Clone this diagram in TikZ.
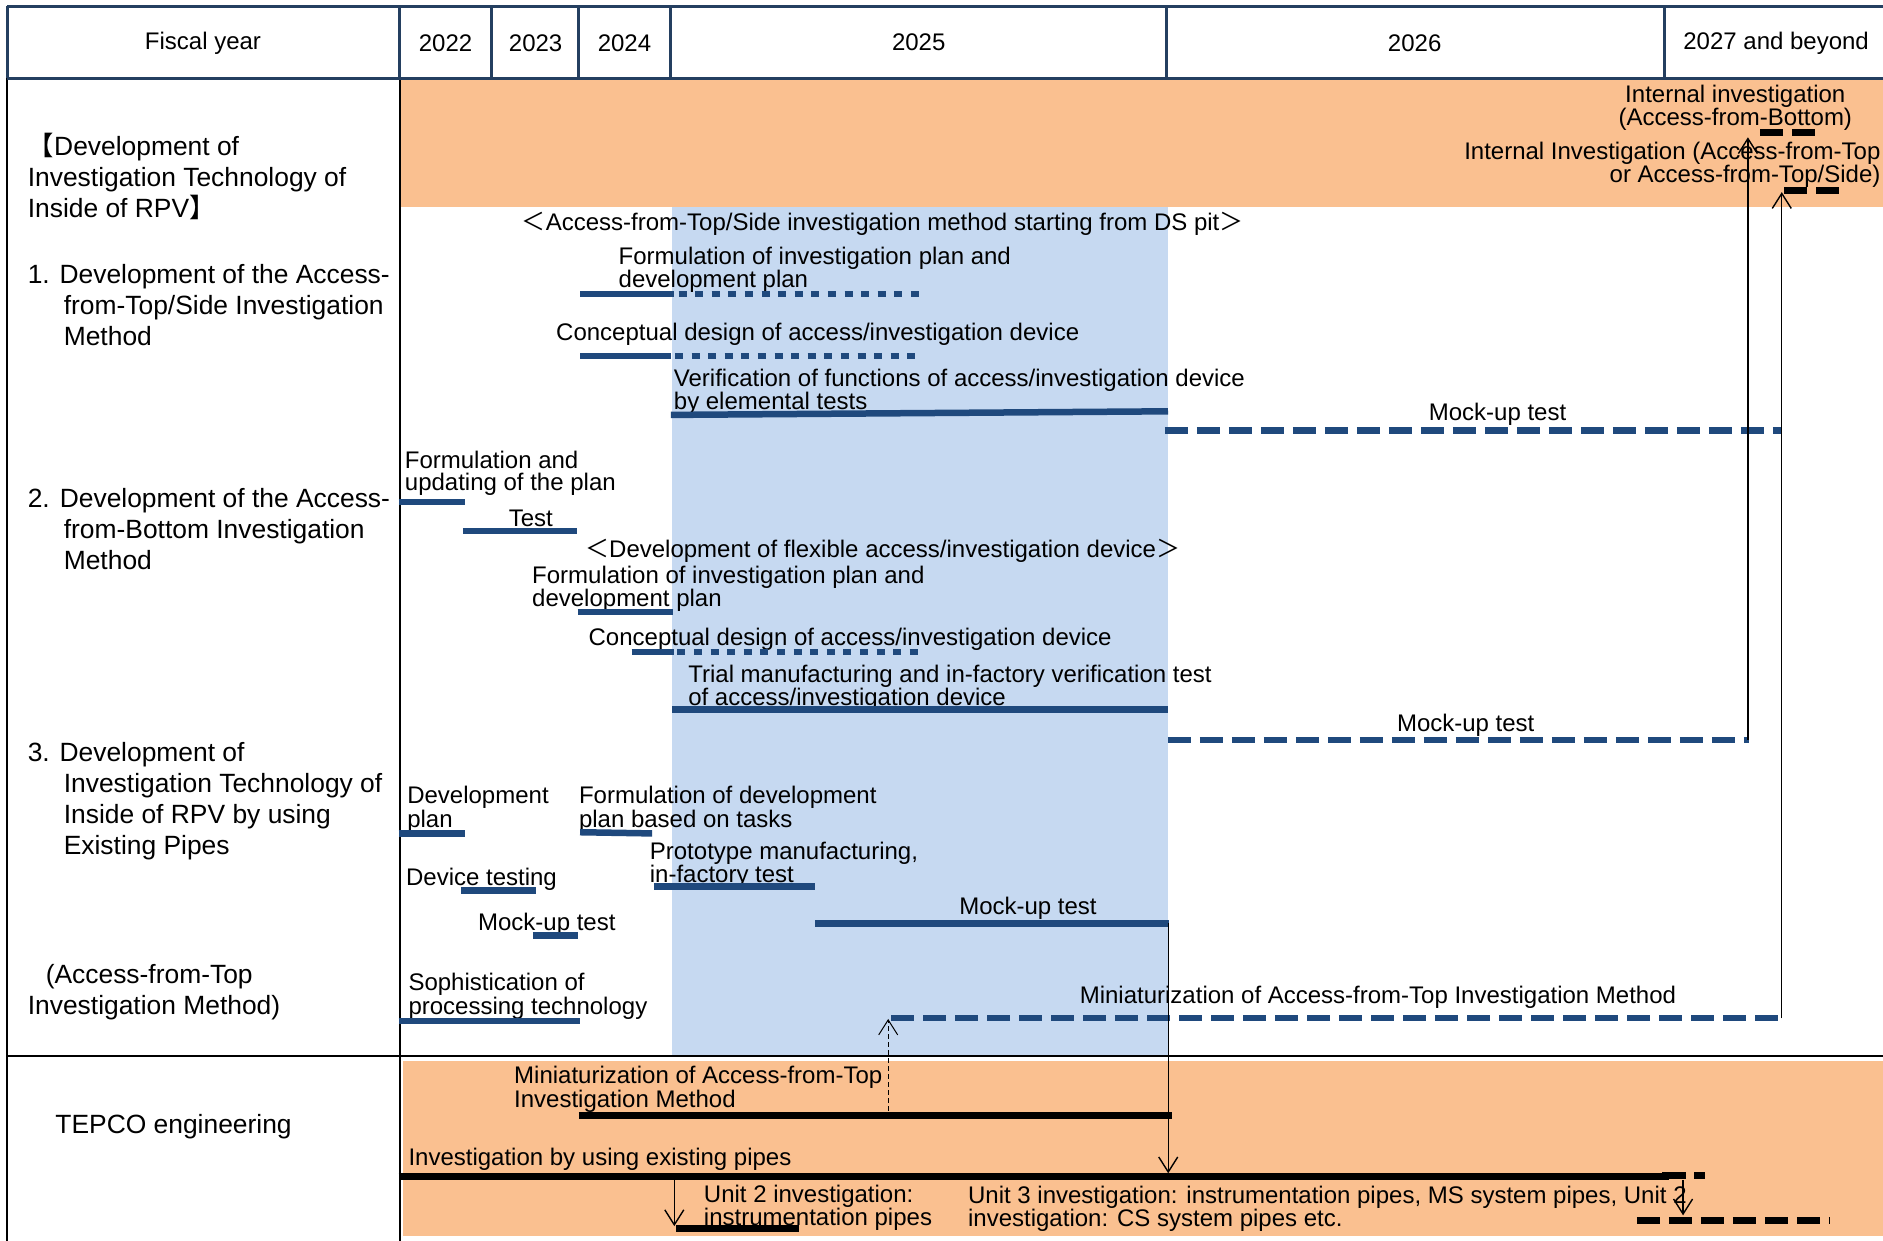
\documentclass[tikz,border=0pt]{standalone}
\usepackage{fontspec}
\setmainfont{Liberation Sans}
\newfontfamily\cjkf{Noto Sans CJK JP}
\usetikzlibrary{arrows.meta}
\definecolor{orng}{HTML}{FAC090}
\definecolor{lblue}{HTML}{C6D9F1}
\definecolor{navy}{HTML}{1F497D}
\definecolor{hdrc}{HTML}{243F60}
\tikzset{
  lbl/.style={inner sep=0pt, anchor=west, align=left, yshift=-2.4pt, font=\fontsize{24}{21.9}\selectfont},
  clbl/.style={inner sep=0pt, anchor=center, align=center, yshift=-2.4pt, font=\fontsize{24}{21.9}\selectfont},
  rlbl/.style={inner sep=0pt, anchor=east, align=right, yshift=-2.4pt, font=\fontsize{24}{21.9}\selectfont},
  lefttxt/.style={inner sep=0pt, anchor=west, align=left, yshift=-2.4pt, font=\fontsize{26.4}{31.2}\selectfont},
  hdrtxt/.style={inner sep=0pt, anchor=center, yshift=-1.5pt, font=\fontsize{24}{24}\selectfont},
  navybar/.style={draw=navy, line width=6.5pt},
  navydash/.style={navybar, dash pattern=on 23pt off 9pt},
  navydot/.style={navybar, dash pattern=on 8pt off 8.6pt},
  blackbar/.style={draw=black, line width=7pt},
  blackdash/.style={blackbar, dash pattern=on 23pt off 9pt},
  conn/.style={draw=black, line width=1.4pt, -{Straight Barb[length=15pt,width=19pt]}},
  dconn/.style={conn, line width=1pt, dash pattern=on 5pt off 3pt},
  hdrline/.style={draw=hdrc, line width=3pt},
  gridline/.style={draw=black, line width=2pt},
}
\begin{document}
\begin{tikzpicture}[x=1.2009pt,y=-1.2009pt]
\useasboundingbox (0,0) rectangle (1568,1033);
\fill[white] (0,0) rectangle (1568,1033);
% backgrounds
\fill[orng] (334,66.5) rectangle (1572,172.6);
\fill[lblue] (559.5,172.6) rectangle (973,878.5);
\fill[orng] (335.5,883.5) rectangle (1572,1029);
% grid
\draw[gridline] (6,65) -- (6,1040);
\draw[gridline] (333,65) -- (333,1040);
\draw[gridline, line width=2.5pt] (6,879.5) -- (1572,879.5);
\draw[hdrline] (6,5) -- (1572,5);
\draw[hdrline] (6,65) -- (1572,65);
\foreach \xx in {6,333,409,482,558,971,1386} { \draw[hdrline] (\xx,5) -- (\xx,65); }
% header texts
\node[hdrtxt] (hFY) at (169,35) {Fiscal year};
\node[hdrtxt] (h22) at (371,35) {2022};
\node[hdrtxt] (h23) at (446,35) {2023};
\node[hdrtxt] (h24) at (520,35) {2024};
\node[hdrtxt] (h25) at (765,34) {2025};
\node[hdrtxt] (h26) at (1178,35) {2026};
\node[hdrtxt] (h27) at (1479,35) {2027 and beyond};
% left column
\node[lefttxt] (L0) at (23,145) {{\cjkf 【}Development of\\Investigation Technology of\\Inside of RPV{\cjkf 】}};
\node[lefttxt] (L1) at (23,252) {1. Development of the Access-\\\hspace*{36pt}from-Top/Side Investigation\\\hspace*{36pt}Method};
\node[lefttxt] (L2) at (23,438.5) {2.\hspace{10pt}Development of the Access-\\\hspace*{36pt}from-Bottom Investigation\\\hspace*{36pt}Method};
\node[lefttxt] (L3) at (23,665) {3. Development of\\\hspace*{36pt}Investigation Technology of\\\hspace*{36pt}Inside of RPV by using\\\hspace*{36pt}Existing Pipes};
\node[lefttxt] (L4) at (23,824.5) {\hspace*{18pt}(Access-from-Top\\Investigation Method)};
\node[lefttxt] (L5) at (46,936) {TEPCO engineering};
% top right
\node[clbl] (tIIB) at (1445,87.5) {Internal investigation\\(Access-from-Bottom)};
\node[rlbl] (tIIT) at (1566,135.4) {Internal Investigation (Access-from-Top\\or Access-from-Top/Side)};
\draw[blackdash] (1465.6,110.5) -- (1511.5,110.5);
\draw[blackdash] (1485.7,158.9) -- (1532,158.9);
% section 1
\node[clbl] (t1a) at (735,184) {{\cjkf ＜}Access-from-Top/Side investigation method starting from DS pit{\cjkf ＞}};
\node[lbl] (t1b) at (515,222.5) {Formulation of investigation plan and\\development plan};
\draw[navybar] (483,244.8) -- (561,244.8);
\draw[navydot] (565,244.8) -- (768,244.8);
\node[lbl] (t1c) at (463,276) {Conceptual design of access/investigation device};
\draw[navybar] (483,296.5) -- (558.5,296.5);
\draw[navydot] (562,296.5) -- (768,296.5);
\node[lbl] (t1d) at (561,324) {Verification of functions of access/investigation device\\by elemental tests};
\draw[navybar] (558.7,345.5) -- (972.6,342.5);
\node[clbl] (t1e) at (1247,343) {Mock-up test};
\draw[navydash] (970,358.6) -- (1484,358.6);
% section 2
\node[lbl] (t2a) at (337,392) {Formulation and\\updating of the plan};
\draw[navybar] (332,418) -- (387,418);
\node[clbl] (t2b) at (442,430) {Test};
\draw[navybar] (385.4,442) -- (480.3,442);
\node[clbl] (t2c) at (735,456.5) {{\cjkf ＜}Development of flexible access/investigation device{\cjkf ＞}};
\node[lbl] (t2d) at (443,488.5) {Formulation of investigation plan and\\development plan};
\draw[navybar] (481,509.5) -- (560.7,509.5);
\node[lbl] (t2e) at (490,530.5) {Conceptual design of access/investigation device};
\draw[navybar] (526,543) -- (561,543);
\draw[navydot] (564,543) -- (766,543);
\node[lbl] (t2f) at (573,570.5) {Trial manufacturing and in-factory verification test\\of access/investigation device};
\draw[navybar] (559.6,591) -- (972.7,591);
\node[clbl] (t2g) at (1220.5,602) {Mock-up test};
\draw[navydash] (972.5,616) -- (1456,616);
% section 3
\node[lbl] (t3a) at (339,672) {Development\\plan};
\draw[navybar] (332,694) -- (387.6,694);
\node[lbl] (t3b) at (482,672) {Formulation of development\\plan based on tasks};
\draw[navybar] (483,693) -- (543,694);
\node[lbl] (t3c) at (541,718) {Prototype manufacturing,\\in-factory test};
\draw[navybar] (544.8,738.4) -- (679,738.4);
\node[lbl] (t3d) at (338,730) {Device testing};
\draw[navybar] (383.8,741.7) -- (446.6,741.7);
\node[lbl] (t3e) at (398,767.6) {Mock-up test};
\draw[navybar] (443.8,779) -- (481.4,779);
\node[clbl] (t3f) at (856,754.5) {Mock-up test};
\draw[navybar] (679,769) -- (973.5,769);
\node[lbl] (t3g) at (340,827.5) {Sophistication of\\processing technology};
\draw[navybar] (332,850) -- (483,850);
\node[lbl] (t3h) at (899,828.5) {Miniaturization of Access-from-Top Investigation Method};
\draw[navydash] (742,847.7) -- (1482,847.7);
% bottom section
\node[lbl] (t4a) at (428,905) {Miniaturization of Access-from-Top\\Investigation Method};
\draw[blackbar] (482,928.6) -- (976,928.6);
\node[lbl] (t4b) at (340,963.5) {Investigation by using existing pipes};
\draw[blackbar] (332,980) -- (1390,980);
\draw[blackbar, dash pattern=on 24pt off 8.4pt on 10.8pt off 100pt] (1384,979) -- (1421,979);
\node[lbl] (t4c) at (586,1003.5) {Unit 2 investigation:\\instrumentation pipes};
\draw[blackbar] (563,1023) -- (665,1023);
\node[lbl] (t4d) at (806,1004.5) {Unit 3 investigation: instrumentation pipes, MS system pipes, Unit 2\\investigation: CS system pipes etc.};
\draw[blackdash] (1363,1016) -- (1523.5,1016);
% connectors
\coordinate (m2end) at (1455.5,616);
\coordinate (tipB) at (1455.5,114.3);
\coordinate (minEnd) at (1483.7,848);
\coordinate (tipT) at (1483.7,160);
\coordinate (tminBar) at (739.6,925);
\coordinate (minStart) at (739.6,848.5);
\coordinate (mk3end) at (972.8,769);
\coordinate (pipesBar) at (972.8,977);
\coordinate (u2src) at (561.5,983);
\coordinate (u2tip) at (561.5,1021);
\coordinate (u3src) at (1401.5,983);
\coordinate (u3tip) at (1401.5,1012);
\draw[conn] (m2end) -- (tipB);
\draw[conn] (minEnd) -- (tipT);
\draw[dconn] (tminBar) -- (minStart);
\draw[conn] (mk3end) -- (pipesBar);
\draw[conn] (u2src) -- (u2tip);
\draw[conn] (u3src) -- (u3tip);
\end{tikzpicture}
\end{document}
